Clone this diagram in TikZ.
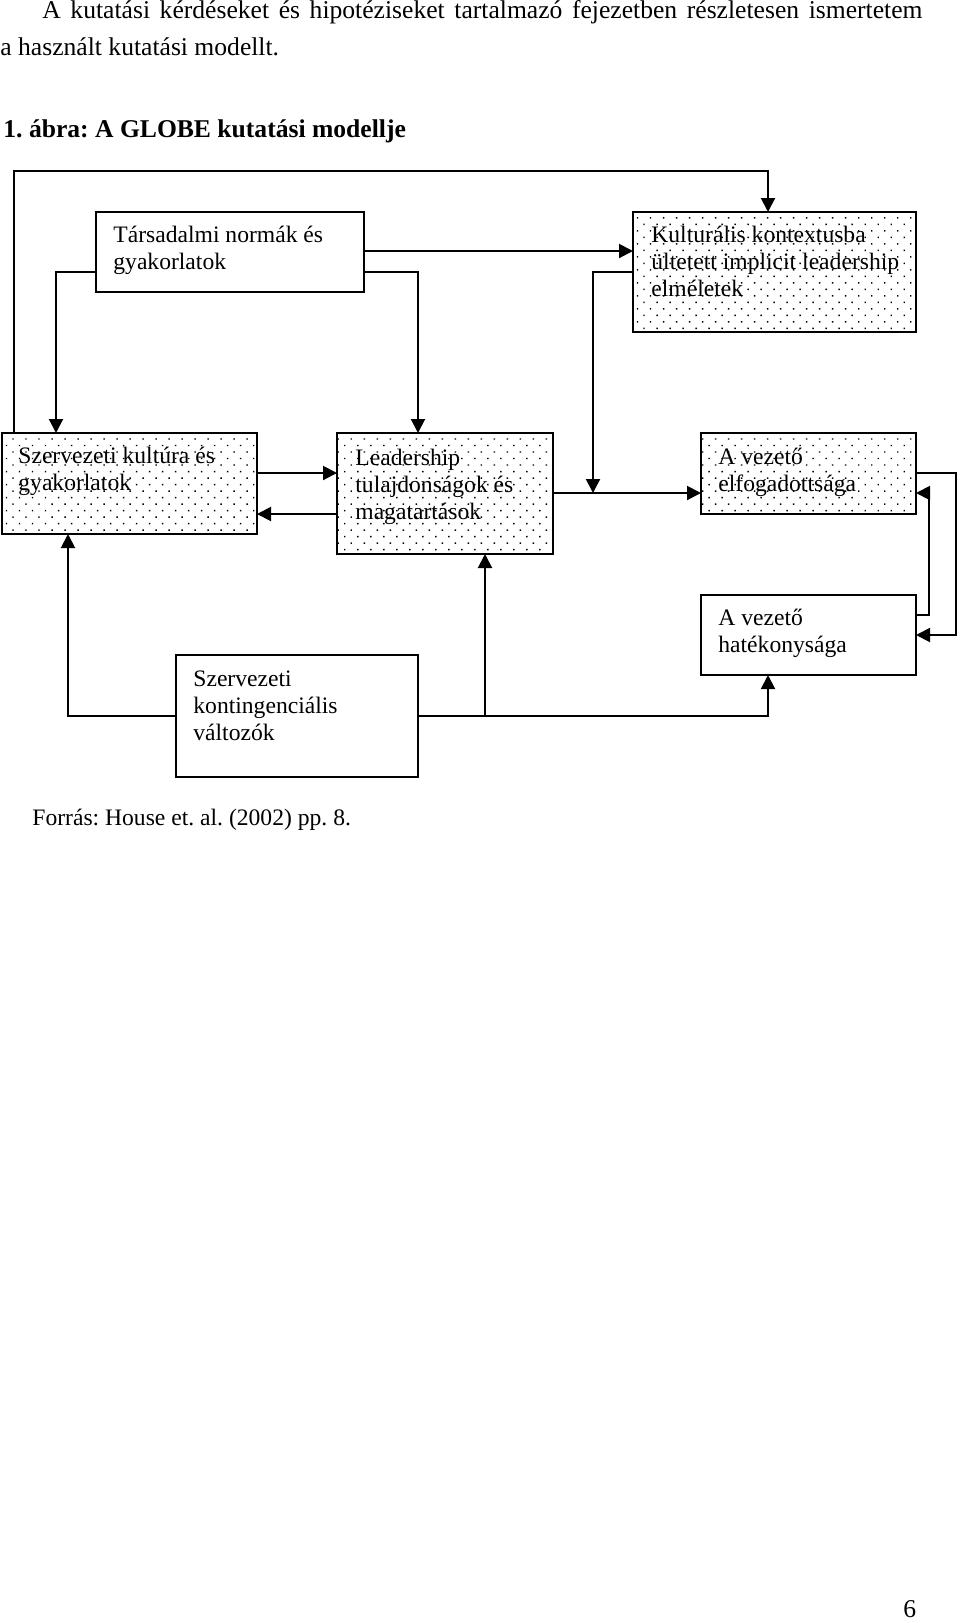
\documentclass[tikz,border=0pt]{standalone}
\usepackage{fontspec}
\setmainfont{Liberation Serif}
\frenchspacing
\usetikzlibrary{calc,positioning,arrows.meta,patterns.meta}

\begin{document}
\begin{tikzpicture}[x=0.5pt,y=-0.5pt,
  doboz/.style={draw,line width=1pt,inner sep=0pt,outer sep=0pt,anchor=north west},
  pontos/.style={doboz,pattern={Dots[angle=45,distance=4.6pt,radius=0.5pt]}},
  szoveg/.style={anchor=base west,align=left,inner sep=0pt,font=\fontsize{11.8}{13.5}\selectfont},
  fej/.style={anchor=base west,inner sep=0pt,font=\fontsize{12.8}{15}\selectfont},
  nyil/.style={line width=1pt,-{Triangle[length=7pt,width=7pt]}}]
\useasboundingbox (0,0) rectangle (960,1623);

\node[fej] (bek1) at (42,18) {\makebox[440pt][s]{A kutatási kérdéseket és hipotéziseket tartalmazó fejezetben részletesen ismertetem}};
\node[fej] (bek2) at (0,55) {a használt kutatási modellt.};
\node[fej,font=\fontsize{12.8}{15}\selectfont\bfseries] (cim) at (3,137) {1. ábra: A GLOBE kutatási modellje};

\node[doboz,minimum width=134pt,minimum height=40pt] (tars) at (96,212) {};
\node[pontos,minimum width=141.5pt,minimum height=60pt] (kult) at (633,212) {};
\node[pontos,minimum width=127.5pt,minimum height=50.5pt] (szkult) at (2,433) {};
\node[pontos,minimum width=108pt,minimum height=60.5pt] (lead) at (337,433) {};
\node[pontos,minimum width=107.5pt,minimum height=40.5pt] (elfog) at (701,433) {};
\node[doboz,minimum width=107.5pt,minimum height=40pt] (hatek) at (701,595) {};
\node[doboz,minimum width=121pt,minimum height=61pt] (kont) at (176,655) {};

% a szoveg bazisvonala az utolso sorhoz igazodik
\node[szoveg] (tars-t) at ($(tars.north west)+(17,57)$) {Társadalmi normák és\\gyakorlatok};
\node[szoveg] (kult-t) at ($(kult.north west)+(18,84)$) {Kulturális kontextusba\\ültetett implicit leadership\\elméletek};
\node[szoveg] (szkult-t) at ($(szkult.north west)+(16,57)$) {Szervezeti kultúra és\\gyakorlatok};
\node[szoveg] (lead-t) at ($(lead.north west)+(18,86)$) {Leadership\\tulajdonságok és\\magatartások};
\node[szoveg] (elfog-t) at ($(elfog.north west)+(17,58)$) {A vezető\\elfogadottsága};
\node[szoveg] (hatek-t) at ($(hatek.north west)+(17,57)$) {A vezető\\hatékonysága};
\node[szoveg] (kont-t) at ($(kont.north west)+(17,85)$) {Szervezeti\\kontingenciális\\változók};

\coordinate (becs) at ($(lead.north east)+(40,60)$);

\draw[nyil] ($(szkult.north west)+(12,0)$) -- ++(0,-262) -| ($(kult.north west)+(135,0)$);
\draw[nyil] ($(tars.north west)+(0,60)$) -| ($(szkult.north west)+(54,0)$);
\draw[nyil] ($(tars.north east)+(0,60)$) -| ($(lead.north west)+(81,0)$);
\draw[nyil] ($(tars.north east)+(0,39)$) -- ($(kult.north west)+(0,39)$);
\draw[nyil] ($(szkult.north east)+(0,40)$) -- ($(lead.north west)+(0,40)$);
\draw[nyil] ($(lead.north west)+(0,81)$) -- ($(szkult.north east)+(0,81)$);
\draw[nyil] ($(kult.north west)+(0,60)$) -| (becs);
\draw[nyil] ($(lead.north east)+(0,60)$) -- ($(elfog.north west)+(0,60)$);
\draw[nyil] ($(elfog.north east)+(0,40)$) -- ++(40,0) |- ($(hatek.north east)+(0,40)$);
\draw[nyil] ($(hatek.north east)+(0,20)$) -- ++(13,0) |- ($(elfog.north east)+(0,60)$);
\draw[nyil] ($(kont.north west)+(0,61)$) -| ($(szkult.south west)+(66,0)$);
\draw[nyil] ($(kont.north east)+(0,61)$) -| ($(hatek.south west)+(67,0)$);
\draw[nyil] ($(kont.north east)+(67,61)$) -- ($(lead.south west)+(148,0)$);

\node[szoveg] (forras) at (32,825) {Forrás: House et. al. (2002) pp. 8.};
\node[fej] (oldal) at (903,1617) {6};
% doboz = keretes mező, pontos = pontozott mező
\end{tikzpicture}
\end{document}
